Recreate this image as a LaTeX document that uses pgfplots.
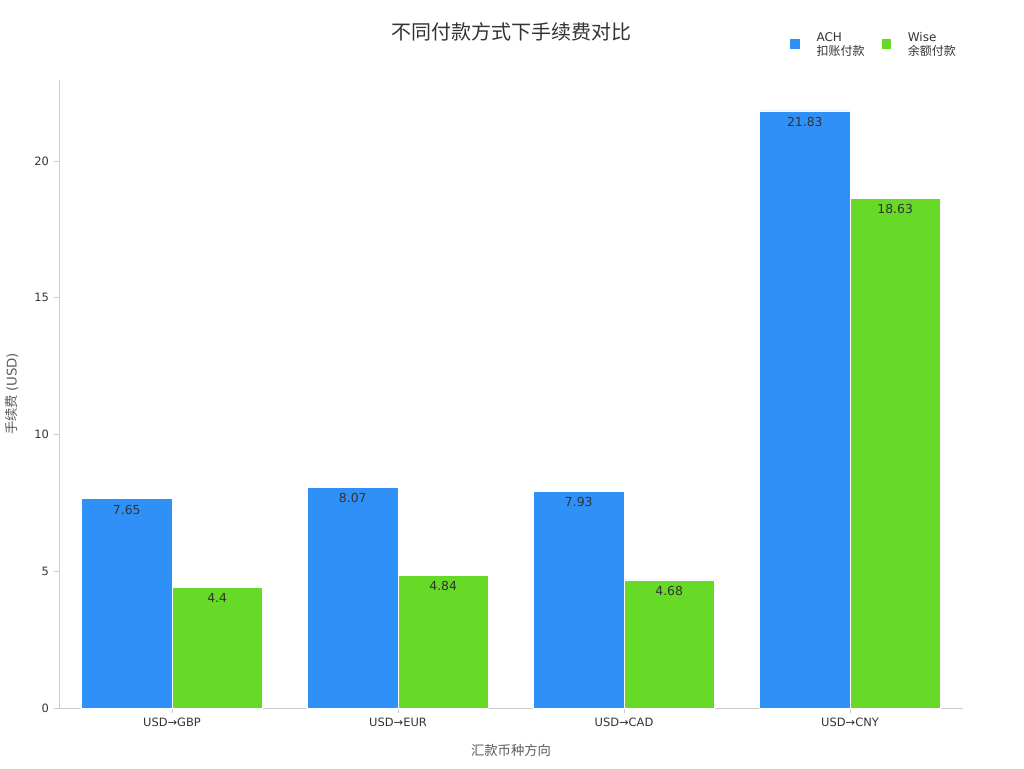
\documentclass[border=0pt]{standalone}
\usepackage{pgfplots}
\pgfplotsset{compat=1.18}
\usepackage{fontspec}
\setmainfont{DejaVu Sans}
\newfontfamily\cjk{Noto Sans CJK SC}

\definecolor{achblue}{HTML}{2F91F7}
\definecolor{wisegreen}{HTML}{66DA26}
\definecolor{axisgray}{HTML}{CCCCCC}
\definecolor{txt}{HTML}{333333}

\begin{document}
\begin{tikzpicture}[x=0.75pt,y=0.75pt]
\path (-59,-60) rectangle (965,708);
\begin{axis}[
at={(0,0)}, anchor=south west,
scale only axis,
width=678pt, height=471pt,
xmin=-0.5, xmax=3.5,
ymin=0, ymax=22.96,
xtick={0,1,2,3},
xticklabels={USD→GBP,USD→EUR,USD→CAD,USD→CNY},
ytick={0,5,10,15,20},
axis x line*=bottom, axis y line*=left,
axis line style={axisgray, -},
tick style={axisgray, thin},
major tick length=4pt,
tick pos=left,
tick align=outside,
ticklabel style={font=\fontsize{8.6}{10}\selectfont, text=txt},
/pgf/number format/assume math mode=true,
ybar, bar width=0.4,
xlabel={\cjk 汇款币种方向},
ylabel={\cjk 手续费\ \fontspec{DejaVu Sans}(USD)},
xlabel style={font=\fontsize{10}{12}\selectfont, text=txt!80, at={(axis description cs:0.5,-0.067)}, anchor=center},
ylabel style={font=\fontsize{10}{12}\selectfont, text=txt!80, at={(axis description cs:-0.052,0.5)}, anchor=center},
nodes near coords={\pgfmathprintnumber{\pgfplotspointmeta}},
every node near coord/.append style={font=\fontsize{9.3}{10}\selectfont, text=txt, anchor=north, yshift=-1pt},
legend style={draw=none, fill=none, at={(0.803,1.085)}, anchor=north west,
  font=\fontsize{9}{10.5}\selectfont, nodes={align=left, text=txt}, column sep=10pt},
legend columns=2,
legend cell align=left,
legend image code/.code={\fill[#1] (0pt,-3.5pt) rectangle (8pt,4.5pt);},
clip=false,
]
\addplot[fill=achblue, draw=white, line width=0.5pt, bar shift=-0.2] coordinates {(0,7.65) (1,8.07) (2,7.93) (3,21.83)};
\addplot[fill=wisegreen, draw=white, line width=0.5pt, bar shift=0.2] coordinates {(0,4.4) (1,4.84) (2,4.68) (3,18.63)};
\legend{ACH\\{\cjk 扣账付款}, Wise\\{\cjk 余额付款}}
\node[font=\cjk\fontsize{15}{17}\selectfont, text=txt] at (axis description cs:0.5,1.076) {不同付款方式下手续费对比};
\end{axis}
\end{tikzpicture}
\end{document}
